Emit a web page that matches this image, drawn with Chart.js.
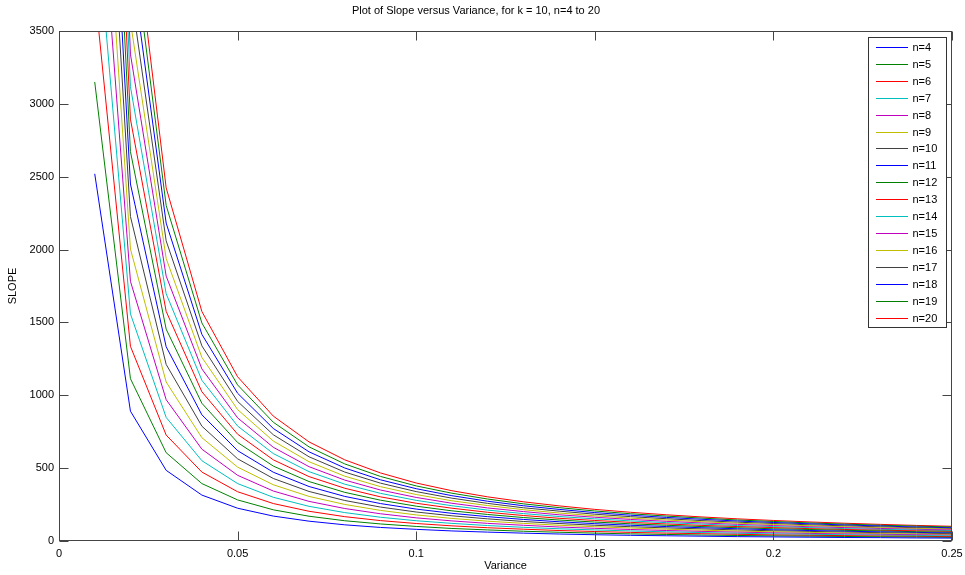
<!DOCTYPE html>
<html>
<head>
<meta charset="utf-8">
<title>Slope versus Variance</title>
<script src="https://cdn.jsdelivr.net/npm/chart.js@4.4.0/dist/chart.umd.min.js"></script>
<style>
  html, body { margin: 0; padding: 0; background: #fff; }
  #wrap { width: 965px; height: 575px; }
</style>
</head>
<body>
<div id="wrap"><canvas id="slopeChart" width="965" height="575"></canvas></div>
<script>
// variance samples, 0.01 .. 0.25
const variance = [0.01, 0.02, 0.03, 0.04, 0.05, 0.06, 0.07, 0.08, 0.09, 0.10, 0.11, 0.12, 0.13,
                  0.14, 0.15, 0.16, 0.17, 0.18, 0.19, 0.20, 0.21, 0.22, 0.23, 0.24, 0.25];

// slope for each n (k = 10)
const n4  = [2520, 891, 485, 315, 225, 171, 136, 111, 93, 80, 69, 61, 54, 48, 43, 39, 36, 33, 30, 28, 26, 24, 23, 21, 20];
const n5  = [3150, 1114, 606, 394, 282, 214, 170, 139, 117, 100, 86, 76, 67, 60, 54, 49, 45, 41, 38, 35, 33, 31, 29, 27, 25];
const n6  = [3780, 1336, 727, 473, 338, 257, 204, 167, 140, 120, 104, 91, 81, 72, 65, 59, 54, 50, 46, 42, 39, 37, 34, 32, 30];
const n7  = [4410, 1559, 848, 551, 394, 300, 238, 195, 163, 139, 121, 106, 94, 84, 76, 69, 63, 58, 53, 49, 46, 43, 40, 38, 35];
const n8  = [5040, 1782, 970, 630, 451, 343, 272, 223, 187, 159, 138, 121, 108, 96, 87, 79, 72, 66, 61, 56, 52, 49, 46, 43, 40];
const n9  = [5670, 2004, 1091, 709, 507, 386, 306, 251, 210, 179, 155, 136, 121, 108, 98, 89, 81, 74, 68, 63, 59, 55, 51, 48, 45];
const n10 = [6300, 2227, 1212, 788, 564, 429, 340, 278, 233, 199, 173, 152, 134, 120, 108, 98, 90, 83, 76, 70, 66, 61, 57, 54, 50];
const n11 = [6930, 2450, 1333, 866, 620, 472, 374, 306, 257, 219, 190, 167, 148, 132, 119, 108, 99, 91, 84, 77, 72, 67, 63, 59, 55];
const n12 = [7560, 2672, 1454, 945, 676, 514, 408, 334, 280, 239, 207, 182, 161, 144, 130, 118, 108, 99, 91, 84, 79, 73, 69, 64, 60];
const n13 = [8190, 2895, 1576, 1024, 733, 557, 442, 362, 303, 259, 225, 197, 175, 156, 141, 128, 117, 107, 99, 92, 85, 79, 74, 70, 66];
const n14 = [8820, 3118, 1697, 1103, 789, 600, 476, 390, 327, 279, 242, 212, 188, 168, 152, 138, 126, 116, 106, 99, 92, 85, 80, 75, 71];
const n15 = [9450, 3341, 1818, 1181, 845, 643, 510, 418, 350, 299, 259, 227, 202, 180, 163, 148, 135, 124, 114, 106, 98, 92, 86, 80, 76];
const n16 = [10080, 3563, 1939, 1260, 902, 686, 544, 445, 373, 319, 276, 243, 215, 192, 173, 157, 144, 132, 122, 113, 105, 98, 91, 86, 81];
const n17 = [10710, 3786, 2060, 1339, 958, 729, 578, 473, 397, 339, 294, 258, 228, 205, 184, 167, 153, 140, 129, 120, 111, 104, 97, 91, 86];
const n18 = [11340, 4009, 2182, 1418, 1014, 772, 612, 501, 420, 359, 311, 273, 242, 217, 195, 177, 162, 149, 137, 127, 118, 110, 103, 96, 91];
const n19 = [11970, 4231, 2303, 1496, 1071, 815, 646, 529, 443, 378, 328, 288, 255, 229, 206, 187, 171, 157, 144, 134, 124, 116, 108, 102, 96];
const n20 = [12600, 4454, 2424, 1575, 1127, 857, 680, 557, 467, 398, 345, 303, 269, 241, 217, 197, 180, 165, 152, 141, 131, 122, 114, 107, 101];

const nValues = [4, 5, 6, 7, 8, 9, 10, 11, 12, 13, 14, 15, 16, 17, 18, 19, 20];
const slopeSeries = [n4, n5, n6, n7, n8, n9, n10, n11, n12, n13, n14, n15, n16, n17, n18, n19, n20];

// classic plot color order, cycled
const lineColors = ['#0000ff', '#008000', '#ff0000', '#00bfbf', '#bf00bf', '#bfbf00', '#404040'];

const xTicks = [0, 0.05, 0.1, 0.15, 0.2, 0.25];
const yTicks = [0, 500, 1000, 1500, 2000, 2500, 3000, 3500];

const FONT = 'Liberation Sans, Arial, sans-serif';

const datasets = nValues.map((n, i) => ({
    label: 'n=' + n,
    data: variance.map((v, j) => ({ x: v, y: slopeSeries[i][j] })),
    borderColor: lineColors[i % lineColors.length],
    borderWidth: 1,
    pointRadius: 0,
    tension: 0,
    fill: false
}));

// box around the plot, inward tick marks, and the legend in the top right corner
const boxAxes = {
    id: 'boxAxes',
    afterDraw(chart) {
        const ctx = chart.ctx;
        const area = chart.chartArea;
        const xs = chart.scales.x;
        const ys = chart.scales.y;
        const L = Math.round(area.left) + 0.5, R = Math.round(area.right) - 0.5;
        const T = Math.round(area.top) + 0.5, B = Math.round(area.bottom) - 0.5;
        const tick = 9;

        ctx.save();
        ctx.strokeStyle = '#444';
        ctx.lineWidth = 1;
        ctx.beginPath();
        xTicks.forEach(v => {
            const px = Math.round(xs.getPixelForValue(v)) + 0.5;
            ctx.moveTo(px, B); ctx.lineTo(px, B - tick);
            ctx.moveTo(px, T); ctx.lineTo(px, T + tick);
        });
        yTicks.forEach(v => {
            const py = Math.round(ys.getPixelForValue(v)) + 0.5;
            ctx.moveTo(L, py); ctx.lineTo(L + tick, py);
            ctx.moveTo(R, py); ctx.lineTo(R - tick, py);
        });
        ctx.stroke();
        ctx.strokeRect(L, T, R - L, B - T);

        // legend
        const lg = { left: 868.5, top: 37.5, right: 946.5, bottom: 327.5 };
        ctx.fillStyle = '#fff';
        ctx.fillRect(lg.left, lg.top, lg.right - lg.left, lg.bottom - lg.top);
        ctx.strokeStyle = '#333';
        ctx.strokeRect(lg.left, lg.top, lg.right - lg.left, lg.bottom - lg.top);
        ctx.font = '11px ' + FONT;
        ctx.textBaseline = 'middle';
        ctx.textAlign = 'left';
        chart.data.datasets.forEach((ds, i) => {
            const y = Math.round(46.7 + i * 16.96) + 0.5;
            ctx.strokeStyle = ds.borderColor;
            ctx.beginPath();
            ctx.moveTo(876, y);
            ctx.lineTo(908, y);
            ctx.stroke();
            ctx.fillStyle = '#000';
            ctx.fillText(ds.label, 912.5, y);
        });
        ctx.restore();
    }
};

new Chart(document.getElementById('slopeChart'), {
    type: 'line',
    data: { datasets },
    options: {
        responsive: false,
        animation: false,
        devicePixelRatio: 1,
        layout: { padding: { left: 0, right: 13, top: 0, bottom: 0 } },
        plugins: {
            legend: { display: false },
            tooltip: { enabled: false },
            title: {
                display: true,
                text: 'Plot of Slope versus Variance, for k = 10, n=4 to 20',
                color: '#000',
                font: { family: FONT, size: 11, weight: 'normal' },
                padding: { top: 4, bottom: 13.8 }
            }
        },
        scales: {
            x: {
                type: 'linear',
                min: 0,
                max: 0.25,
                afterFit: s => { s.height = 34; s.paddingLeft = 0; s.paddingRight = 0; },
                afterBuildTicks: s => { s.ticks = xTicks.map(v => ({ value: v })); },
                grid: { display: false, drawTicks: false },
                border: { display: false },
                ticks: {
                    color: '#000',
                    padding: 6,
                    maxRotation: 0,
                    font: { family: FONT, size: 11 },
                    callback: v => String(+v.toFixed(2))
                },
                title: {
                    display: true,
                    text: 'Variance',
                    color: '#000',
                    font: { family: FONT, size: 11 },
                    padding: { top: 0, bottom: 2 }
                }
            },
            y: {
                min: 0,
                max: 3500,
                afterFit: s => { s.width = 59; s.paddingTop = 0; s.paddingBottom = 0; },
                afterBuildTicks: s => { s.ticks = yTicks.map(v => ({ value: v })); },
                grid: { display: false, drawTicks: false },
                border: { display: false },
                ticks: {
                    color: '#000',
                    padding: 5,
                    font: { family: FONT, size: 11 },
                    callback: v => String(v)
                },
                title: {
                    display: true,
                    text: 'SLOPE',
                    color: '#000',
                    font: { family: FONT, size: 11 },
                    padding: { top: 6, bottom: 0 }
                }
            }
        }
    },
    plugins: [boxAxes]
});
</script>
</body>
</html>
